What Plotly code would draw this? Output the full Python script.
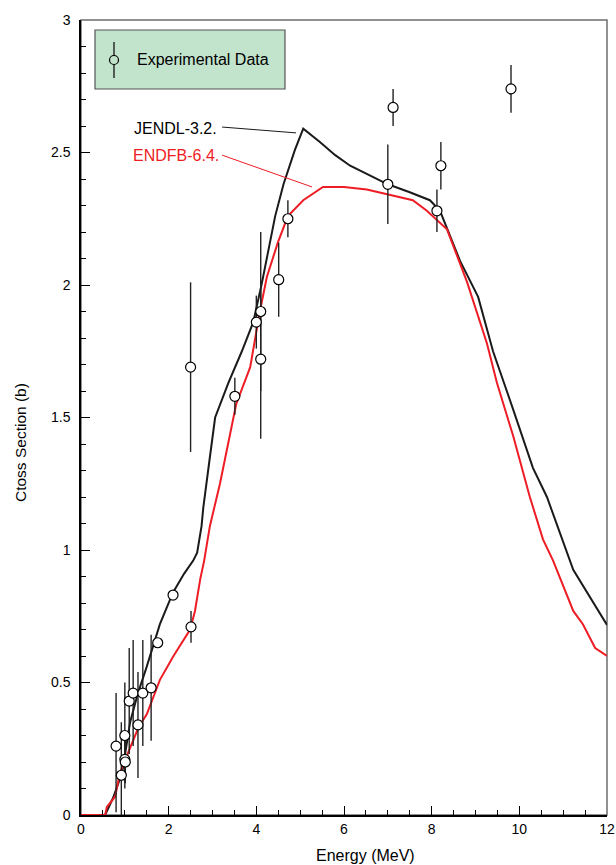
import plotly.graph_objects as go

# Experimental data
exp_x = [0.80, 0.92, 1.00, 1.00, 1.01, 1.10, 1.19, 1.30, 1.41, 1.60, 1.75, 2.10, 2.51,
         2.50, 3.51, 4.00, 4.10, 4.10, 4.51, 4.72, 7.00, 7.12, 8.12, 8.21, 9.81]
exp_y = [0.26, 0.15, 0.30, 0.21, 0.20, 0.43, 0.46, 0.34, 0.46, 0.48, 0.65, 0.83, 0.71,
         1.69, 1.58, 1.86, 1.90, 1.72, 2.02, 2.25, 2.38, 2.67, 2.28, 2.45, 2.74]
exp_err_plus = [0.20, 0.20, 0.20, 0.08, 0.08, 0.20, 0.20, 0.20, 0.20, 0.20, 0.0, 0.0, 0.06,
                0.32, 0.07, 0.10, 0.30, 0.30, 0.14, 0.07, 0.15, 0.07, 0.08, 0.09, 0.09]
exp_err_minus = [0.25, 0.15, 0.20, 0.08, 0.08, 0.20, 0.20, 0.20, 0.20, 0.20, 0.0, 0.0, 0.06,
                 0.32, 0.07, 0.10, 0.30, 0.30, 0.14, 0.07, 0.15, 0.07, 0.08, 0.09, 0.09]

# JENDL-3.2 evaluation
jendl_x = [0, 0.55, 0.73, 0.94, 1.12, 1.30, 1.50, 1.80, 2.10, 2.35, 2.56, 2.65, 2.75, 2.79,
           2.94, 3.02, 3.06, 3.36, 3.67, 3.93, 4.13, 4.43, 4.62, 4.88, 5.07, 5.45, 5.80, 6.14,
           6.50, 7.00, 7.50, 7.96, 8.19, 8.65, 9.06, 9.40, 9.86, 10.31, 10.63, 11.23, 12.0]
jendl_y = [0, 0, 0.064, 0.16, 0.35, 0.46, 0.56, 0.72, 0.84, 0.91, 0.96, 0.99, 1.09, 1.16,
           1.35, 1.44, 1.50, 1.63, 1.75, 1.86, 2.01, 2.26, 2.38, 2.51, 2.59, 2.54, 2.49, 2.45,
           2.42, 2.38, 2.35, 2.32, 2.28, 2.09, 1.955, 1.75, 1.53, 1.31, 1.20, 0.925, 0.717]

# ENDF/B-6.4 evaluation
endf_x = [0, 0.55, 0.59, 0.78, 0.89, 1.04, 1.31, 1.50, 1.80, 2.11, 2.49, 2.60, 2.72, 2.81,
          2.94, 3.17, 3.36, 3.54, 3.86, 4.08, 4.24, 4.49, 4.72, 5.07, 5.52, 6.00, 6.52,
          7.05, 7.57, 7.89, 8.35, 8.81, 9.26, 9.49, 9.72, 9.86, 10.24, 10.54, 10.77,
          11.23, 11.45, 11.73, 12.0]
endf_y = [0, 0, 0.03, 0.07, 0.16, 0.22, 0.33, 0.38, 0.51, 0.60, 0.70, 0.77, 0.89, 0.96,
          1.09, 1.25, 1.40, 1.55, 1.69, 1.90, 2.03, 2.16, 2.26, 2.32, 2.37, 2.37, 2.36,
          2.34, 2.32, 2.28, 2.21, 2.01, 1.78, 1.63, 1.50, 1.43, 1.20, 1.04, 0.96,
          0.77, 0.72, 0.63, 0.60]

FONT = "Liberation Sans, Arial, Helvetica, sans-serif"

fig = go.Figure()

fig.add_trace(go.Scatter(
    x=jendl_x, y=jendl_y, mode="lines", name="JENDL-3.2.",
    line=dict(color="#1a1a1a", width=2), showlegend=False))
fig.add_trace(go.Scatter(
    x=endf_x, y=endf_y, mode="lines", name="ENDFB-6.4.",
    line=dict(color="#ee1c24", width=2), showlegend=False))
fig.add_trace(go.Scatter(
    x=exp_x, y=exp_y, mode="markers", name="Experimental Data",
    marker=dict(symbol="circle", size=10, color="white",
                line=dict(color="black", width=1.2)),
    error_y=dict(type="data", symmetric=False, array=exp_err_plus,
                 arrayminus=exp_err_minus, color="#222222", thickness=1.4, width=0),
    showlegend=False))

shapes = [
    # grey frame (top/right)
    dict(type="rect", xref="paper", yref="paper", x0=0, x1=1, y0=0, y1=1,
         line=dict(color="#6e6e6e", width=1.5), layer="below"),
    # legend box
    dict(type="rect", xref="paper", yref="paper",
         x0=(95 - 81) / 526, x1=(285 - 81) / 526,
         y0=(815 - 89) / 795, y1=(815 - 30) / 795,
         fillcolor="#c2e3cc", line=dict(color="#555555", width=1.2), layer="above"),
    # legend glyph: error bar line and circle
    dict(type="line", xref="paper", yref="paper",
         xsizemode="pixel", ysizemode="pixel",
         xanchor=(114 - 81) / 526, yanchor=(815 - 60) / 795,
         x0=0, x1=0, y0=-18, y1=18,
         line=dict(color="#222222", width=1.4), layer="above"),
    dict(type="circle", xref="paper", yref="paper",
         xsizemode="pixel", ysizemode="pixel",
         xanchor=(114 - 81) / 526, yanchor=(815 - 60) / 795,
         x0=-4.5, x1=4.5, y0=-4.5, y1=4.5,
         fillcolor="#c2e3cc", line=dict(color="black", width=1.2), layer="above"),
    # leader lines for curve labels
    dict(type="line", xref="x", yref="y", x0=3.22, y0=2.596, x1=4.905, y1=2.574,
         line=dict(color="#1a1a1a", width=1)),
    dict(type="line", xref="x", yref="y", x0=3.22, y0=2.49, x1=5.27, y1=2.37,
         line=dict(color="#ee1c24", width=1)),
]

annotations = [
    dict(xref="paper", yref="paper", x=(135 - 81) / 526, y=(815 - 60) / 795,
         xanchor="left", yanchor="middle", text="Experimental Data", showarrow=False,
         font=dict(family=FONT, size=16, color="black")),
    dict(xref="x", yref="y", x=1.16, y=2.59, xanchor="left", yanchor="middle",
         text="JENDL-3.2.", showarrow=False,
         font=dict(family=FONT, size=16, color="black")),
    dict(xref="x", yref="y", x=1.14, y=2.49, xanchor="left", yanchor="middle",
         text="ENDFB-6.4.", showarrow=False,
         font=dict(family=FONT, size=16, color="#ee1c24")),
    # axis titles
    dict(xref="paper", yref="paper", x=(365 - 81) / 526, y=(815 - 855) / 795,
         xanchor="center", yanchor="middle", text="Energy (MeV)", showarrow=False,
         font=dict(family=FONT, size=16, color="black")),
    dict(xref="paper", yref="paper", x=(20 - 81) / 526, y=(815 - 443) / 795,
         xanchor="center", yanchor="middle", text="Ctoss Section (b)", showarrow=False,
         textangle=-90, font=dict(family=FONT, size=15.5, color="black")),
]

fig.update_layout(
    width=616, height=865,
    margin=dict(l=81, r=9, t=20, b=50),
    paper_bgcolor="white", plot_bgcolor="white",
    font=dict(family=FONT, size=14, color="black"),
    shapes=shapes, annotations=annotations,
    showlegend=False,
)

fig.update_xaxes(
    range=[0, 12], showgrid=False, zeroline=False,
    showline=True, linecolor="black", linewidth=1.5,
    ticks="inside", ticklen=9, tickwidth=1.2, tickcolor="black",
    tickmode="linear", tick0=0, dtick=2,
    minor=dict(ticks="inside", ticklen=5, tickwidth=1, tickcolor="black", dtick=0.5),
    tickfont=dict(family=FONT, size=14),
    automargin=False,
)
fig.update_yaxes(
    range=[0, 3], showgrid=False, zeroline=False,
    showline=True, linecolor="black", linewidth=1.5,
    ticks="inside", ticklen=9, tickwidth=1.2, tickcolor="black",
    tickmode="linear", tick0=0, dtick=0.5,
    minor=dict(ticks="inside", ticklen=5, tickwidth=1, tickcolor="black", dtick=0.1),
    tickfont=dict(family=FONT, size=14), ticklabelstandoff=6,
    automargin=False,
)

fig.write_html("out.html")
